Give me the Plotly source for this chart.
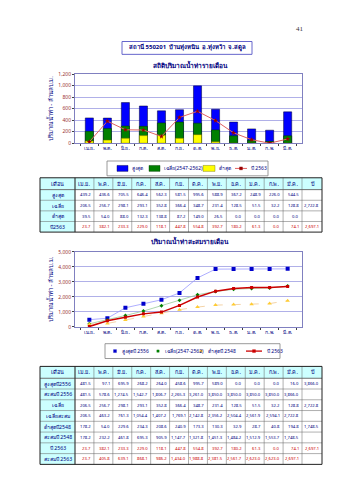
import plotly.graph_objects as go

W, H = 339, 480

months = ["เม.ย.", "พ.ค.", "มิ.ย.", "ก.ค.", "ส.ค.", "ก.ย.", "ต.ค.", "พ.ย.", "ธ.ค.", "ม.ค.", "ก.พ.", "มี.ค."]

# --- monthly statistics (table 1 / chart 1) ---
max_monthly = [439.2, 436.6, 705.5, 646.4, 562.3, 581.5, 995.6, 588.9, 367.2, 248.9, 226.0, 544.5]
mean_monthly = [206.5, 256.7, 298.1, 293.1, 352.8, 366.4, 348.7, 231.4, 128.5, 51.5, 32.2, 128.8]
min_monthly = [39.5, 54.0, 88.0, 132.3, 138.8, 87.2, 149.0, 26.5, 0.0, 0.0, 0.0, 0.0]
y2563_monthly = [23.7, 382.1, 233.3, 229.0, 118.1, 447.8, 554.8, 392.7, 180.2, 61.3, 0.0, 74.1]
mean_year_total = 2722.8
y2563_year_total = 2697.1

# --- cumulative (table 2 / chart 2) ---
max2556_monthly = [481.5, 97.1, 695.9, 268.2, 264.0, 458.6, 995.7, 589.0, 0.0, 0.0, 0.0, 16.0]
max2556_cum = [481.5, 578.6, 1274.5, 1542.7, 1806.7, 2265.3, 3261.0, 3850.0, 3850.0, 3850.0, 3850.0, 3866.0]
max2556_total = 3866.0
mean_cum = [206.5, 463.2, 761.3, 1054.4, 1407.2, 1769.1, 2142.8, 2356.2, 2504.4, 2561.9, 2594.1, 2722.8]
min2548_monthly = [178.2, 54.0, 229.6, 234.3, 208.6, 240.9, 173.3, 130.3, 32.9, 28.7, 40.8, 194.8]
min2548_cum = [178.2, 232.2, 461.8, 695.3, 905.9, 1147.7, 1321.8, 1451.3, 1484.2, 1512.9, 1553.7, 1748.5]
min2548_total = 1748.5
y2563_cum = [23.7, 405.8, 639.1, 868.1, 986.2, 1434.0, 1988.8, 2381.5, 2561.7, 2623.0, 2623.0, 2697.1]

NAVY = "#000080"
RED = "#cc0000"
FONT = "Noto Sans, DejaVu Sans, sans-serif"

def px_x(x):
    return x / W

def px_y(y):
    return 1 - y / H

fig = go.Figure()

# Chart 1: overlaid bars + line
fig.add_trace(go.Bar(x=months, y=max_monthly, name="สูงสุด", marker=dict(color="#0000ff", line=dict(color="#000033", width=0.5)),
                     width=0.45, xaxis="x", yaxis="y"))
fig.add_trace(go.Bar(x=months, y=mean_monthly, name="เฉลี่ย(2547-2562)", marker=dict(color="#008000", line=dict(color="#003300", width=0.5)),
                     width=0.45, xaxis="x", yaxis="y"))
fig.add_trace(go.Bar(x=months, y=min_monthly, name="ต่ำสุด", marker=dict(color="#ffff00", line=dict(color="#666600", width=0.5)),
                     width=0.45, xaxis="x", yaxis="y"))
fig.add_trace(go.Scatter(x=months, y=y2563_monthly, name="ปี 2563", mode="lines+markers",
                         line=dict(color="#e06060", width=1), marker=dict(color="#990000", size=4, symbol="star"),
                         xaxis="x", yaxis="y"))

# Chart 2: cumulative
fig.add_trace(go.Scatter(x=months, y=max2556_cum, name="สูงสุดปี 2556", mode="lines+markers",
                         line=dict(color="#9999ff", width=0.8), marker=dict(color="#0000cc", size=4, symbol="square"),
                         xaxis="x2", yaxis="y2"))
fig.add_trace(go.Scatter(x=months, y=mean_cum, name="เฉลี่ย(2547-2562)", mode="lines+markers",
                         line=dict(color="#99cc99", width=0.8), marker=dict(color="#008000", size=3, symbol="diamond"),
                         xaxis="x2", yaxis="y2"))
fig.add_trace(go.Scatter(x=months, y=min2548_cum, name="ต่ำสุดปี 2548", mode="lines+markers",
                         line=dict(color="#f0c890", width=0.8, dash="dash"), marker=dict(color="#ffcc33", size=4, symbol="triangle-up"),
                         xaxis="x2", yaxis="y2"))
fig.add_trace(go.Scatter(x=months, y=y2563_cum, name="ปี 2563", mode="lines+markers",
                         line=dict(color="#cc0000", width=1.5), marker=dict(color="#cc0000", size=3, symbol="square"),
                         xaxis="x2", yaxis="y2"))

shapes = []
annotations = []

def fmt(v):
    return f"{v:,.1f}"

def rect(x0, y0, x1, y1, fill=None, line_color=None, lw=0.6):
    shapes.append(dict(type="rect", xref="paper", yref="paper",
                       x0=px_x(x0), x1=px_x(x1), y0=px_y(y1), y1=px_y(y0),
                       fillcolor=fill if fill else "rgba(0,0,0,0)",
                       line=dict(color=line_color if line_color else "rgba(0,0,0,0)", width=lw if line_color else 0),
                       layer="below" if fill and not line_color else "above"))

def line(x0, y0, x1, y1, color="#606060", lw=0.6, dash="solid"):
    shapes.append(dict(type="line", xref="paper", yref="paper",
                       x0=px_x(x0), x1=px_x(x1), y0=px_y(y0), y1=px_y(y1),
                       line=dict(color=color, width=lw, dash=dash)))

def text(x, y, s, size=5, color=NAVY, xanchor="center", bold=False):
    annotations.append(dict(x=px_x(x), y=px_y(y), xref="paper", yref="paper",
                            text=f"<b>{s}</b>" if bold else s, showarrow=False,
                            xanchor=xanchor, yanchor="middle",
                            font=dict(family=FONT, size=size, color=color)))

hdr = ["เดือน"] + months + ["ปี"]
col_edges = [40, 75] + [75 + 227 / 12 * (i + 1) for i in range(12)] + [322]

def draw_table(top, header_h, row_h, labels, rows, year_col, row_colors):
    n = len(labels)
    bottom = top + header_h + n * row_h
    # fills
    rect(col_edges[0], top, col_edges[-1], top + header_h, fill="#ccffff")
    rect(col_edges[0], top + header_h, col_edges[1], bottom, fill="#ccffff")
    # grid
    for xe in col_edges[1:-1]:
        line(xe, top, xe, bottom, color="#606060", lw=0.5)
    for r in range(n):
        yy = top + header_h + r * row_h
        line(col_edges[0], yy, col_edges[-1], yy, color="#606060", lw=0.5 if r else 0.9)
    line(col_edges[1], top, col_edges[1], bottom, color="#303030", lw=0.9)
    rect(col_edges[0], top, col_edges[-1], bottom, line_color="#202020", lw=1.0)
    # header text
    for j, h in enumerate(hdr):
        cx = (col_edges[j] + col_edges[j + 1]) / 2
        text(cx, top + header_h / 2, h, size=5.5, color=NAVY)
    # body
    for r in range(n):
        cy = top + header_h + (r + 0.5) * row_h
        text((col_edges[0] + col_edges[1]) / 2, cy, labels[r], size=5.2, color=NAVY)
        for j in range(12):
            text(col_edges[j + 2] - 1, cy, fmt(rows[r][j]), size=4.2, color=row_colors[r], xanchor="right")
        if year_col[r] is not None:
            text(col_edges[-1] - 1, cy, fmt(year_col[r]), size=4.2, color=row_colors[r], xanchor="right")

draw_table(177, 12, 10.75,
           ["สูงสุด", "เฉลี่ย", "ต่ำสุด", "ปี2563"],
           [max_monthly, mean_monthly, min_monthly, y2563_monthly],
           [None, mean_year_total, None, y2563_year_total],
           [NAVY, NAVY, NAVY, RED])

draw_table(368, 12, 10.9,
           ["สูงสุดปี2556", "สะสมปี 2556", "เฉลี่ย", "เฉลี่ยสะสม", "ต่ำสุดปี2548", "สะสมปี 2548", "ปี 2563", "สะสมปี 2563"],
           [max2556_monthly, max2556_cum, mean_monthly, mean_cum, min2548_monthly, min2548_cum, y2563_monthly, y2563_cum],
           [max2556_total, None, mean_year_total, None, min2548_total, None, y2563_year_total, None],
           [NAVY] * 6 + [RED] * 2)

# Legend 1 (custom box)
rect(107, 160, 268, 175, line_color="#808080", lw=0.8)
ly = 167.5
rect(117, ly - 3, 128, ly + 3, fill="#0000ff", line_color="#000033", lw=0.4)
text(130, ly, "สูงสุด", size=5, xanchor="left")
rect(149, ly - 3, 160, ly + 3, fill="#008000", line_color="#003300", lw=0.4)
text(162, ly, "เฉลี่ย(2547-2562)", size=5, xanchor="left")
rect(203, ly - 3, 215, ly + 3, fill="#ffff00", line_color="#666600", lw=0.4)
text(217, ly, "ต่ำสุด", size=5, xanchor="left")
line(235, ly, 247, ly, color="#e06060", lw=1)
rect(239.5, ly - 1.5, 242.5, ly + 1.5, fill="#990000", line_color="#990000", lw=0.3)
text(249, ly, "ปี 2563", size=5, xanchor="left")

# Legend 2 (custom box)
rect(105, 345, 280, 360, line_color="#808080", lw=0.8)
ly2 = 352.5
rect(113.5, ly2 - 1.5, 116.5, ly2 + 1.5, fill="#0000cc", line_color="#0000cc", lw=0.3)
text(120, ly2, "สูงสุดปี 2556", size=5, xanchor="left")
rect(156.8, ly2 - 1.2, 159.2, ly2 + 1.2, fill="#008000", line_color="#008000", lw=0.3)
text(163, ly2, "เฉลี่ย(2547-2562)", size=5, xanchor="left")
rect(199.8, ly2 - 1.2, 202.2, ly2 + 1.2, fill="#ffcc33", line_color="#ffcc33", lw=0.3)
text(206, ly2, "ต่ำสุดปี 2548", size=5, xanchor="left")
line(246, ly2, 262, ly2, color="#cc0000", lw=1.3)
rect(252.5, ly2 - 1.5, 255.5, ly2 + 1.5, fill="#cc0000", line_color="#cc0000", lw=0.3)
text(265, ly2, "ปี 2563", size=5, xanchor="left")

# Station title box
rect(122, 39, 252, 52, line_color="#6666cc", lw=1)
text(187, 45.5, "สถานี 550201  บ้านทุ่งหนิน  อ.ทุ่งหว้า  จ.สตูล", size=6, color=NAVY, bold=True)
text(190, 63, "สถิติปริมาณน้ำท่ารายเดือน", size=6.5, color=NAVY, bold=True)
text(190, 241, "ปริมาณน้ำท่าสะสมรายเดือน", size=6.5, color=NAVY, bold=True)
annotations.append(dict(x=px_x(306), y=px_y(20), xref="paper", yref="paper", text="41", showarrow=False,
                        font=dict(family="Liberation Serif, serif", size=7, color="#333333")))

axis_common = dict(showline=True, linecolor="#8080c0", linewidth=0.8, mirror=True,
                   ticks="outside", ticklen=2, tickcolor="#404040")
xfont = dict(family=FONT, size=5, color=NAVY)
yfont = dict(family=FONT, size=5, color="#993333")

fig.update_layout(
    width=W, height=H, margin=dict(l=0, r=0, t=0, b=0),
    paper_bgcolor="white", plot_bgcolor="white",
    barmode="overlay", showlegend=False,
    font=dict(family=FONT, color=NAVY),
    xaxis=dict(domain=[px_x(75), px_x(302)], anchor="y", tickson="boundaries", tickangle=0,
               tickfont=xfont, **axis_common),
    yaxis=dict(domain=[px_y(142), px_y(72)], anchor="x", range=[0, 1200], dtick=200, tickformat=",",
               gridcolor="#b0b0e8", gridwidth=0.6, zeroline=False, tickfont=yfont,
               title=dict(text="ปริมาณน้ำท่า - ล้านลบ.ม.", font=dict(family=FONT, size=6, color=NAVY), standoff=4),
               **axis_common),
    xaxis2=dict(domain=[px_x(75), px_x(302)], anchor="y2", tickson="boundaries", tickangle=0,
                tickfont=xfont, **axis_common),
    yaxis2=dict(domain=[px_y(328), px_y(252)], anchor="x2", range=[0, 5000], dtick=1000, tickformat=",",
                gridcolor="#b0b0e8", gridwidth=0.6, zeroline=False, tickfont=yfont,
                title=dict(text="ปริมาณน้ำท่า - ล้านลบ.ม.", font=dict(family=FONT, size=6, color=NAVY), standoff=4),
                **axis_common),
    shapes=shapes,
    annotations=annotations,
)

fig.write_html("out.html")
